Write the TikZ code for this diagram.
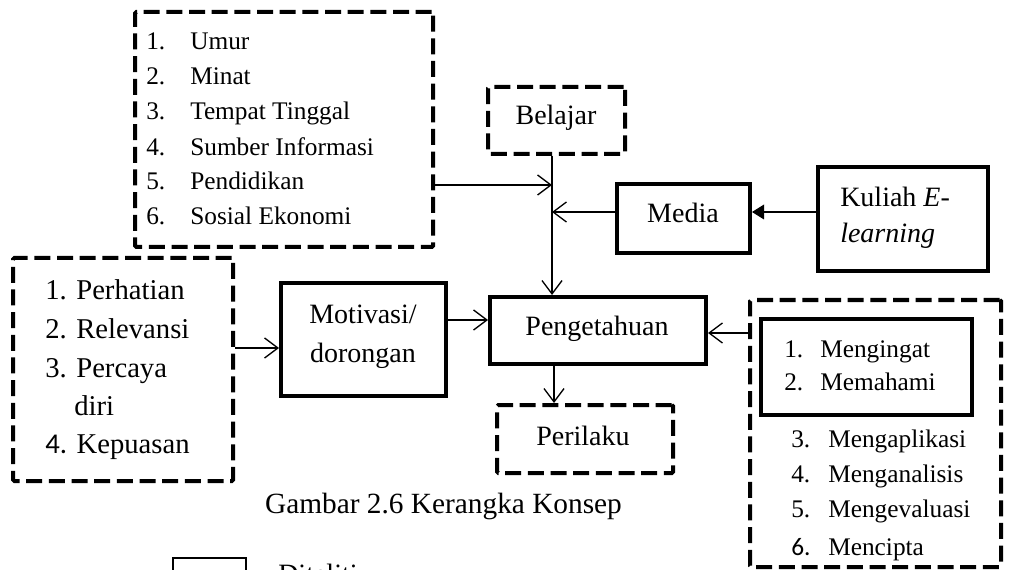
\documentclass[tikz,border=0pt]{standalone}
\usepackage{fontspec}
\setmainfont{Liberation Serif}
\newfontfamily\sansnum{Carlito}
\usetikzlibrary{arrows.meta}
\tikzset{
  dbox/.style={draw, line width=3pt, dash pattern=on 12pt off 5pt, inner sep=0pt, rounded corners=1pt},
  tbox/.style={draw, line width=3pt, inner sep=0pt},
  mbox/.style={draw, line width=2.4pt, inner sep=0pt},
  arr/.style={line width=1pt, -{Straight Barb[length=10pt,width=15pt,line width=1pt]}},
  farr/.style={line width=1pt, -{Triangle[length=9pt,width=11pt]}},
  big/.style={font=\fontsize{21}{25}\selectfont, inner sep=0pt},
  lst/.style={font=\fontsize{19}{23}\selectfont, inner sep=0pt, anchor=base west},
  lstb/.style={font=\fontsize{21.5}{25}\selectfont, inner sep=0pt, anchor=base west},
}
\begin{document}
\begin{tikzpicture}[x=0.75pt,y=-0.75pt]
\useasboundingbox (0,0) rectangle (1017,570);
\clip (0,0) rectangle (1017,570);
% boxes
\node[dbox, minimum width=223.5pt, minimum height=176.25pt] (top) at (284,129.5) {};
\node[dbox, minimum width=102.75pt, minimum height=50.25pt] (belajar) at (556.5,120.5) {};
\node[tbox, minimum width=99.75pt, minimum height=51.75pt] (media) at (683.5,218.5) {};
\node[mbox, minimum width=127.5pt, minimum height=78pt] (kuliah) at (903,219) {};
\node[dbox, minimum width=165pt, minimum height=167.25pt] (left) at (123,369.5) {};
\node[tbox, minimum width=123.75pt, minimum height=84.75pt] (motiv) at (363.5,339.5) {};
\node[tbox, minimum width=162pt, minimum height=50.25pt] (peng) at (598,330.5) {};
\node[dbox, minimum width=132pt, minimum height=51pt] (peril) at (585,439) {};
\node[dbox, minimum width=188.25pt, minimum height=200.25pt] (rbox) at (875.5,433.5) {};
\node[mbox, minimum width=158.25pt, minimum height=72pt] (inner) at (866.5,367) {};
\node[draw, line width=1.5pt, minimum width=54.75pt, minimum height=31.5pt, inner sep=0pt] (leg) at (209.5,579) {};
% texts in single boxes
\node[big, anchor=base] (tbel) at (556,125) {Belajar};
\node[big, anchor=base] (tmed) at (683,223) {Media};
\node[big, anchor=base west] (tk1) at (840,207) {Kuliah \textit{E}-};
\node[big, anchor=base west] (tk2) at (840,243) {\textit{learning}};
\node[big, anchor=base] (tm1) at (363,323) {Motivasi/};
\node[big, anchor=base] (tm2) at (363,362) {dorongan};
\node[big, anchor=base] (tpeng) at (597,335) {Pengetahuan};
\node[big, anchor=base] (tper) at (583,445) {Perilaku};
\node[font=\fontsize{22}{26}\selectfont, inner sep=0pt, anchor=base] (cap) at (443.5,513) {Gambar 2.6 Kerangka Konsep};
\node[big, anchor=base west] (tleg) at (278,583) {Diteliti};
% top list
\foreach \y/\n/\t [count=\i] in {50/1./Umur, 85/2./Minat, 120/3./Tempat Tinggal, 156/4./Sumber Informasi, 190/5./Pendidikan, 225/6./Sosial Ekonomi}{
  \node[lst] (tn\i) at (146,\y) {\n};
  \node[lst] (tt\i) at (190,\y) {\t};
}
% left list
\node[lstb] (l1) at (45,300) {1. Perhatian};
\node[lstb] (l2) at (45,338) {2. Relevansi};
\node[lstb] (l3) at (45,377) {3. Percaya};
\node[lstb] (l3b) at (74,415) {diri};
\node[lstb] (l4) at (45,453) {{\sansnum 4.} Kepuasan};
% right list
\node[lst] (rn1) at (784,357) {1.};
\node[lst] (rt1) at (820,357) {Mengingat};
\node[lst] (rn2) at (784,390) {2.};
\node[lst] (rt2) at (820,390) {Memahami};
\node[lst] (rn3) at (791,447) {3.};
\node[lst] (rt3) at (828,447) {Mengaplikasi};
\node[lst] (rn4) at (791,482) {4.};
\node[lst] (rt4) at (828,482) {Menganalisis};
\node[lst] (rn5) at (791,517) {5.};
\node[lst] (rt5) at (828,517) {Mengevaluasi};
\node[lst, font=\fontsize{19}{23}\sansnum] (rn6) at (791,555) {6.};
\node[lst] (rt6) at (828,555) {Mencipta};
% junction coordinates
\coordinate (j1) at (552,185);
\coordinate (j2) at (552,212);
\coordinate (k1) at (0,212);
\coordinate (a1) at (0,348);
\coordinate (a2) at (0,320);
\coordinate (a3) at (0,333);
\coordinate (p1) at (554,0);
% connectors
\draw[arr] (belajar.south -| j1) -- (peng.north -| j1);
\draw[arr] (top.east |- j1) -- (j1);
\draw[arr] (media.west |- j2) -- (j2);
\draw[farr] (kuliah.west |- k1) -- (media.east |- k1);
\draw[arr] (left.east |- a1) -- (motiv.west |- a1);
\draw[arr] (motiv.east |- a2) -- (peng.west |- a2);
\draw[arr] (rbox.west |- a3) -- (peng.east |- a3);
\draw[arr] (peng.south -| p1) -- (peril.north -| p1);
\end{tikzpicture}
\end{document}
